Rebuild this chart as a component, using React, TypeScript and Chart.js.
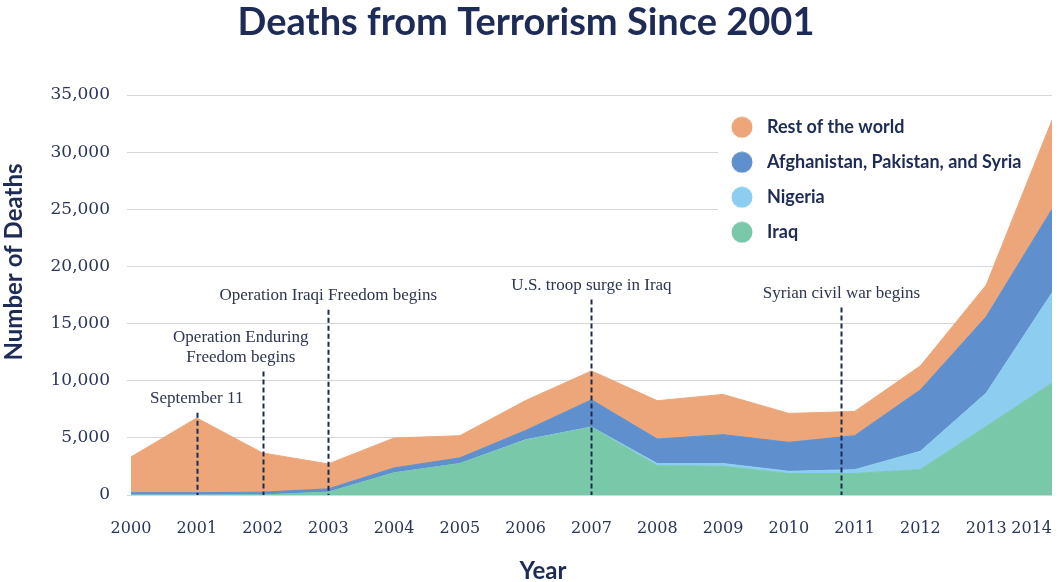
import React, { useEffect, useRef } from 'react';
import { Chart, registerables } from 'chart.js';

Chart.register(...registerables);

// ---- data ----
const years = [2000, 2001, 2002, 2003, 2004, 2005, 2006, 2007, 2008, 2009, 2010, 2011, 2012, 2013, 2014];
const iraq = [0, 0, 0, 250, 1940, 2750, 4800, 5920, 2570, 2510, 1880, 1880, 2230, 6000, 9800];
const nigeria = [0, 0, 0, 0, 0, 0, 40, 30, 180, 240, 200, 340, 1600, 2920, 7900];
const afPakSyria = [200, 200, 250, 290, 430, 500, 810, 2380, 2150, 2530, 2530, 2970, 5370, 6680, 7300];
const restOfWorld = [3130, 6540, 3430, 2180, 2620, 1940, 2620, 2530, 3350, 3520, 2530, 2120, 2100, 2770, 7800];
const seriesNames = ['Iraq', 'Nigeria', 'Afghanistan, Pakistan, and Syria', 'Rest of the world'];
const seriesColors = ['#79c8aa', '#8ccdf0', '#5f8fcc', '#eca679'];
const yTickValues = [0, 5000, 10000, 15000, 20000, 25000, 30000, 35000];

const eventYears = [2001, 2002, 2003, 2007, 2010.8];
const eventLabelYears = [2001, 2001.67, 2003, 2007, 2010.8];
const eventTops = [7200, 10800, 16200, 17100, 16400];
const eventLabels = [
  ['September 11'],
  ['Operation Enduring', 'Freedom begins'],
  ['Operation Iraqi Freedom begins'],
  ['U.S. troop surge in Iraq'],
  ['Syrian civil war begins'],
];

const chartTitle = 'Deaths from Terrorism Since 2001';
const xAxisTitle = 'Year';
const yAxisTitle = 'Number of Deaths';

const NAVY = '#1f2b57';
const TICK_COLOR = '#2b3558';
const X_MIN = 1999.94;

const eventsPlugin = {
  id: 'events',
  afterDatasetsDraw(chart: any) {
    const { ctx, scales } = chart;
    const x = scales.x;
    const y = scales.y;
    ctx.save();
    eventYears.forEach((yr, i) => {
      const px = Math.round(x.getPixelForValue(yr)) + 0.5;
      const top = y.getPixelForValue(eventTops[i]);
      const bottom = y.getPixelForValue(0);
      ctx.beginPath();
      ctx.setLineDash([5, 3]);
      ctx.lineWidth = 2;
      ctx.strokeStyle = '#1c2a4f';
      ctx.moveTo(px, top);
      ctx.lineTo(px, bottom);
      ctx.stroke();
      ctx.setLineDash([]);
      ctx.font = '17px "Liberation Serif"';
      ctx.fillStyle = '#2d3550';
      ctx.textAlign = 'center';
      ctx.textBaseline = 'middle';
      const lx = x.getPixelForValue(eventLabelYears[i]);
      const lines = eventLabels[i];
      lines.forEach((t, j) => {
        ctx.fillText(t, lx, top - 14 - (lines.length - 1 - j) * 20);
      });
    });
    ctx.restore();
  },
};

const axisTitlesPlugin = {
  id: 'axisTitles',
  afterDraw(chart: any) {
    const { ctx } = chart;
    ctx.save();
    ctx.fillStyle = NAVY;
    ctx.font = 'bold 24px Lato';
    ctx.textAlign = 'center';
    ctx.textBaseline = 'middle';
    ctx.fillText(xAxisTitle, 543, 571);
    ctx.translate(14, 262);
    ctx.rotate(-Math.PI / 2);
    ctx.fillText(yAxisTitle, 0, 0);
    ctx.restore();
  },
};

const legendPlacer = {
  id: 'legendPlacer',
  afterLayout(chart: any) {
    const lg = chart.legend;
    if (!lg) return;
    const ca = chart.chartArea;
    const w = lg.width;
    const h = lg.height;
    lg.left = ca.right - 329;
    lg.top = ca.top + 6.2;
    lg.right = lg.left + w;
    lg.bottom = lg.top + h;
    if (!lg.__patched) {
      const orig = lg.draw;
      lg.draw = function (...args: any[]) {
        const area = chart.chartArea;
        const c = this.ctx;
        c.save();
        c.fillStyle = '#ffffff';
        c.fillRect(area.right - 334, area.top + 5, 334, 155);
        c.restore();
        return orig.apply(this, args);
      };
      lg.__patched = true;
    }
  },
};

export default function App() {
  const ref = useRef<HTMLCanvasElement>(null);

  useEffect(() => {
    const canvas = ref.current;
    if (!canvas) return;

    const makeDot = (color: string) => {
      const c = document.createElement('canvas');
      c.width = 42;
      c.height = 22;
      const g = c.getContext('2d')!;
      g.fillStyle = color;
      g.beginPath();
      g.arc(14, 11, 10.5, 0, Math.PI * 2);
      g.fill();
      return c;
    };
    const dots = seriesColors.map(makeDot);
    const seriesValues = [iraq, nigeria, afPakSyria, restOfWorld];

    const datasets = seriesValues.map((vals, i) => ({
      label: seriesNames[i],
      data: years.map((yr, k) => ({ x: yr, y: vals[k] })),
      backgroundColor: seriesColors[i],
      borderColor: seriesColors[i],
      borderWidth: 1,
      pointRadius: 0,
      pointHoverRadius: 0,
      tension: 0,
      fill: i === 0 ? 'origin' : '-1',
    }));

    const chart = new Chart(canvas, {
      type: 'line',
      data: { datasets },
      plugins: [legendPlacer, eventsPlugin, axisTitlesPlugin],
      options: {
        responsive: false,
        animation: false,
        events: [],
        layout: { padding: { right: 8 } },
        plugins: {
          title: {
            display: true,
            text: chartTitle,
            color: NAVY,
            font: { family: 'Lato', size: 38, weight: 'bold', lineHeight: 1.2 },
            padding: { top: 0, bottom: 49.4 },
          },
          legend: {
            position: 'chartArea',
            align: 'start',
            reverse: true,
            labels: {
              usePointStyle: true,
              color: NAVY,
              padding: 17,
              font: { family: 'Lato', size: 18, weight: 'bold' },
              generateLabels: (ch: any) =>
                (Chart.defaults.plugins.legend.labels as any)
                  .generateLabels(ch)
                  .map((it: any) => ({ ...it, pointStyle: dots[it.datasetIndex] })),
            },
          },
          tooltip: { enabled: false },
        },
        scales: {
          x: {
            type: 'linear',
            min: X_MIN,
            max: years[years.length - 1],
            grid: { display: false, drawTicks: false },
            border: { display: false },
            ticks: {
              autoSkip: false,
              maxRotation: 0,
              align: 'inner',
              padding: 24,
              color: TICK_COLOR,
              font: { family: '"DejaVu Serif"', size: 16 },
              callback: (v: any) => (years.includes(Number(v)) ? String(v) : ''),
            },
            afterBuildTicks: (s: any) => {
              s.ticks = [{ value: X_MIN }, ...years.map((v) => ({ value: v }))];
            },
            afterFit: (s: any) => {
              s.height = 87;
              s.paddingLeft = 0;
              s.paddingRight = 0;
            },
          },
          y: {
            stacked: true,
            min: 0,
            max: yTickValues[yTickValues.length - 1],
            grid: { color: '#d6d6d6', drawTicks: false, lineWidth: 1 },
            border: { display: false },
            ticks: {
              padding: 17,
              color: TICK_COLOR,
              font: { family: '"DejaVu Serif"', size: 17 },
              callback: (v: any) => Number(v).toLocaleString('en-US'),
            },
            afterBuildTicks: (s: any) => {
              s.ticks = yTickValues.map((v) => ({ value: v }));
            },
            afterFit: (s: any) => {
              s.width = 127;
            },
          },
        },
      } as any,
    });

    return () => chart.destroy();
  }, []);

  return (
    <div style={{ position: 'absolute', left: 0, top: 0, width: 1060, height: 582, background: '#ffffff' }}>
      <canvas ref={ref} width={1060} height={582} style={{ display: 'block' }} />
    </div>
  );
}
